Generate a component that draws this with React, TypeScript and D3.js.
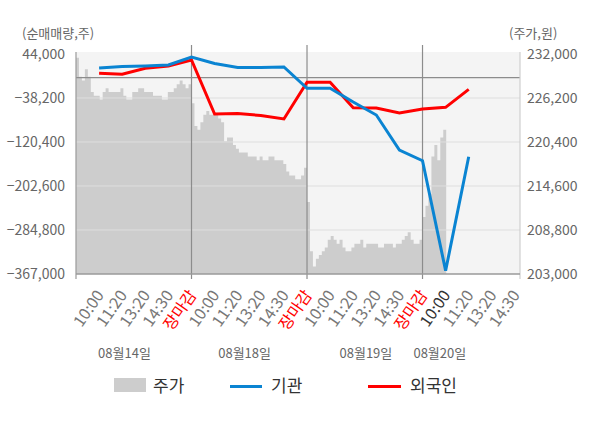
import React from "react";
import * as d3 from "d3";

// ---------- data ----------
const LEFT_TICKS = [44000, -38200, -120400, -202600, -284800, -367000];
const RIGHT_TICKS = [232000, 226200, 220400, 214600, 208800, 203000];
const TIME_LABELS = ["10:00", "11:20", "13:20", "14:30", "장마감"];
const DATE_LABELS = ["08월14일", "08월18일", "08월19일", "08월20일"];

// cumulative net purchase (shares) at each label slot, slot 1..17
const INSTITUTION = [
  18000, 20600, 21600, 23400, 38400,
  26300, 18800, 18800, 19700, -20100,
  -20100, -45700, -70000, -135400, -155300,
  -360800, -147900,
];
const FOREIGN = [
  7900, 6100, 17300, 21600, 32800,
  -68100, -67200, -70900, -77400, -8900,
  -8900, -56300, -56900, -66200, -58800,
  -55600, -22000,
];

// price (won), sampled evenly through each trading day
const PRICE_0814 = [
  231500, 229000, 228500, 230000, 229000, 227000, 226500, 226500, 226000, 227000,
  227500, 227000, 227000, 227000, 227000, 227500, 226500, 226000, 226000, 227000,
  227000, 227500, 227500, 227000, 227000, 227000, 226500, 226500, 226500, 226000,
  226000, 227000, 227000, 227500, 228000, 228500, 228000, 227500, 228000,
];
const PRICE_0818 = [
  225500, 222500, 222000, 223000, 224000, 224500, 224000, 224000, 224000, 223500,
  223000, 220500, 221000, 221000, 220000, 219500, 219000, 219000, 219000, 218500,
  218500, 218500, 218000, 218500, 218000, 218000, 218500, 218500, 218000, 218000,
  218000, 217500, 216500, 216000, 216000, 215500, 215500, 216000, 217000,
];
const PRICE_0819 = [
  212500, 206000, 204000, 205000, 205500, 206000, 206500, 207500, 208000, 207500,
  207000, 207500, 206500, 206000, 206000, 206500, 207000, 207000, 207500, 206500,
  207000, 207000, 207000, 207000, 206500, 206500, 207000, 207000, 207000, 206500,
  207000, 207000, 207500, 208000, 208500, 207500, 207000, 207000, 207500,
];
const PRICE_0820 = [210500, 212000, 213500, 218500, 220000, 218000, 221000, 222000];

const PRICE_DAYS = [PRICE_0814, PRICE_0818, PRICE_0819, PRICE_0820];

// ---------- layout ----------
const W = 600;
const H = 428;
const LEFT = 76;
const RIGHT = 520;
const TOP = 54;
const BOTTOM = 274;
const SLOTS_PER_DAY = 5;
const SAMPLES_PER_DAY = 39;
const DATE_LABEL_SLOTS = [2.1, 7.3, 12.55, 15.75];

const FONT = "'Noto Sans CJK KR', 'Noto Sans', sans-serif";
const BLUE = "#0a84d2";
const RED = "#ff0000";

export default function App() {
  const x = d3.scaleLinear().domain([0, 19.22]).range([LEFT, RIGHT]);
  const yL = d3.scaleLinear().domain([-367000, 44000]).range([BOTTOM, TOP]);
  const yR = d3.scaleLinear().domain([203000, 232000]).range([BOTTOM, TOP]);
  const fmt = d3.format(",");

  const pricePts: { s: number; v: number }[] = [];
  PRICE_DAYS.forEach((arr, d) => {
    arr.forEach((v, i) => {
      pricePts.push({ s: d * SLOTS_PER_DAY + (i * SLOTS_PER_DAY) / SAMPLES_PER_DAY, v });
    });
  });
  const last = pricePts[pricePts.length - 1];
  pricePts.push({ s: last.s + SLOTS_PER_DAY / SAMPLES_PER_DAY, v: last.v });

  const area = d3
    .area<{ s: number; v: number }>()
    .x((p) => x(p.s))
    .y0(yR(203000))
    .y1((p) => yR(p.v))
    .curve(d3.curveStepAfter);

  const line = d3
    .line<number>()
    .x((_, i) => x(i + 1))
    .y((v) => yL(v));

  const tickSlots = d3.range(1, 20);
  const separators = [5, 10, 15];

  return (
    <div>
      <style>{`body{margin:0}`}</style>
      <svg width={W} height={H} style={{ display: "block", background: "#fff" }} fontFamily={FONT}>
        <rect x={LEFT} y={52} width={RIGHT - LEFT} height={BOTTOM - 52} fill="#f4f4f4" />
        <path d={area(pricePts) || ""} fill="#cdcdcd" />
        {LEFT_TICKS.slice(1, -1).map((t) => (
          <line key={t} x1={LEFT} x2={RIGHT} y1={yL(t)} y2={yL(t)} stroke="#dedede" strokeWidth={1} />
        ))}
        <line x1={LEFT} x2={RIGHT} y1={yL(0)} y2={yL(0)} stroke="#8c8c8c" strokeWidth={1.2} />
        {separators.map((s) => (
          <line key={s} x1={x(s)} x2={x(s)} y1={45} y2={279} stroke="#8c8c8c" strokeWidth={1.2} />
        ))}
        <line x1={LEFT} x2={LEFT} y1={52} y2={279} stroke="#9a9a9a" strokeWidth={1.2} />
        <line x1={RIGHT} x2={RIGHT} y1={52} y2={279} stroke="#cfcfcf" strokeWidth={1.2} />
        <line x1={LEFT} x2={RIGHT} y1={BOTTOM} y2={BOTTOM} stroke="#9a9a9a" strokeWidth={1.5} />

        <path d={line(FOREIGN) || ""} fill="none" stroke={RED} strokeWidth={3} />
        <path d={line(INSTITUTION) || ""} fill="none" stroke={BLUE} strokeWidth={3} />

        {LEFT_TICKS.map((t) => (
          <text key={t} x={65} y={yL(t)} dy="0.35em" textAnchor="end" fontSize={14} fill="#666">
            {fmt(t)}
          </text>
        ))}
        {RIGHT_TICKS.map((t) => (
          <text key={t} x={527} y={yR(t)} dy="0.35em" textAnchor="start" fontSize={14} fill="#666">
            {fmt(t)}
          </text>
        ))}
        <text x={22} y={38} fontSize={13} fill="#666">(순매매량,주)</text>
        <text x={509} y={38} fontSize={13} fill="#666">(주가,원)</text>

        {tickSlots.map((k) => {
          const label = TIME_LABELS[(k - 1) % SLOTS_PER_DAY];
          const isClose = k % SLOTS_PER_DAY === 0;
          const ax = x(k) + 1;
          const ay = 292;
          return (
            <text
              key={k}
              x={ax}
              y={ay}
              dy="0.35em"
              textAnchor="end"
              fontSize={16}
              fill={isClose ? RED : k === 16 ? "#333" : "#777"}
              transform={`rotate(-55 ${ax} ${ay})`}
            >
              {label}
            </text>
          );
        })}
        {DATE_LABELS.map((d, i) => (
          <text key={d} x={x(DATE_LABEL_SLOTS[i])} y={358} textAnchor="middle" fontSize={13} fill="#666">
            {d}
          </text>
        ))}

        <rect x={114} y={378} width={32} height={14} fill="#cdcdcd" />
        <text x={153} y={391.5} fontSize={17} fill="#333">주가</text>
        <line x1={230} x2={262} y1={386.5} y2={386.5} stroke={BLUE} strokeWidth={3} />
        <text x={271} y={391.5} fontSize={17} fill="#333">기관</text>
        <line x1={368} x2={401} y1={386.5} y2={386.5} stroke={RED} strokeWidth={3} />
        <text x={410} y={391.5} fontSize={17} fill="#333">외국인</text>
      </svg>
    </div>
  );
}
